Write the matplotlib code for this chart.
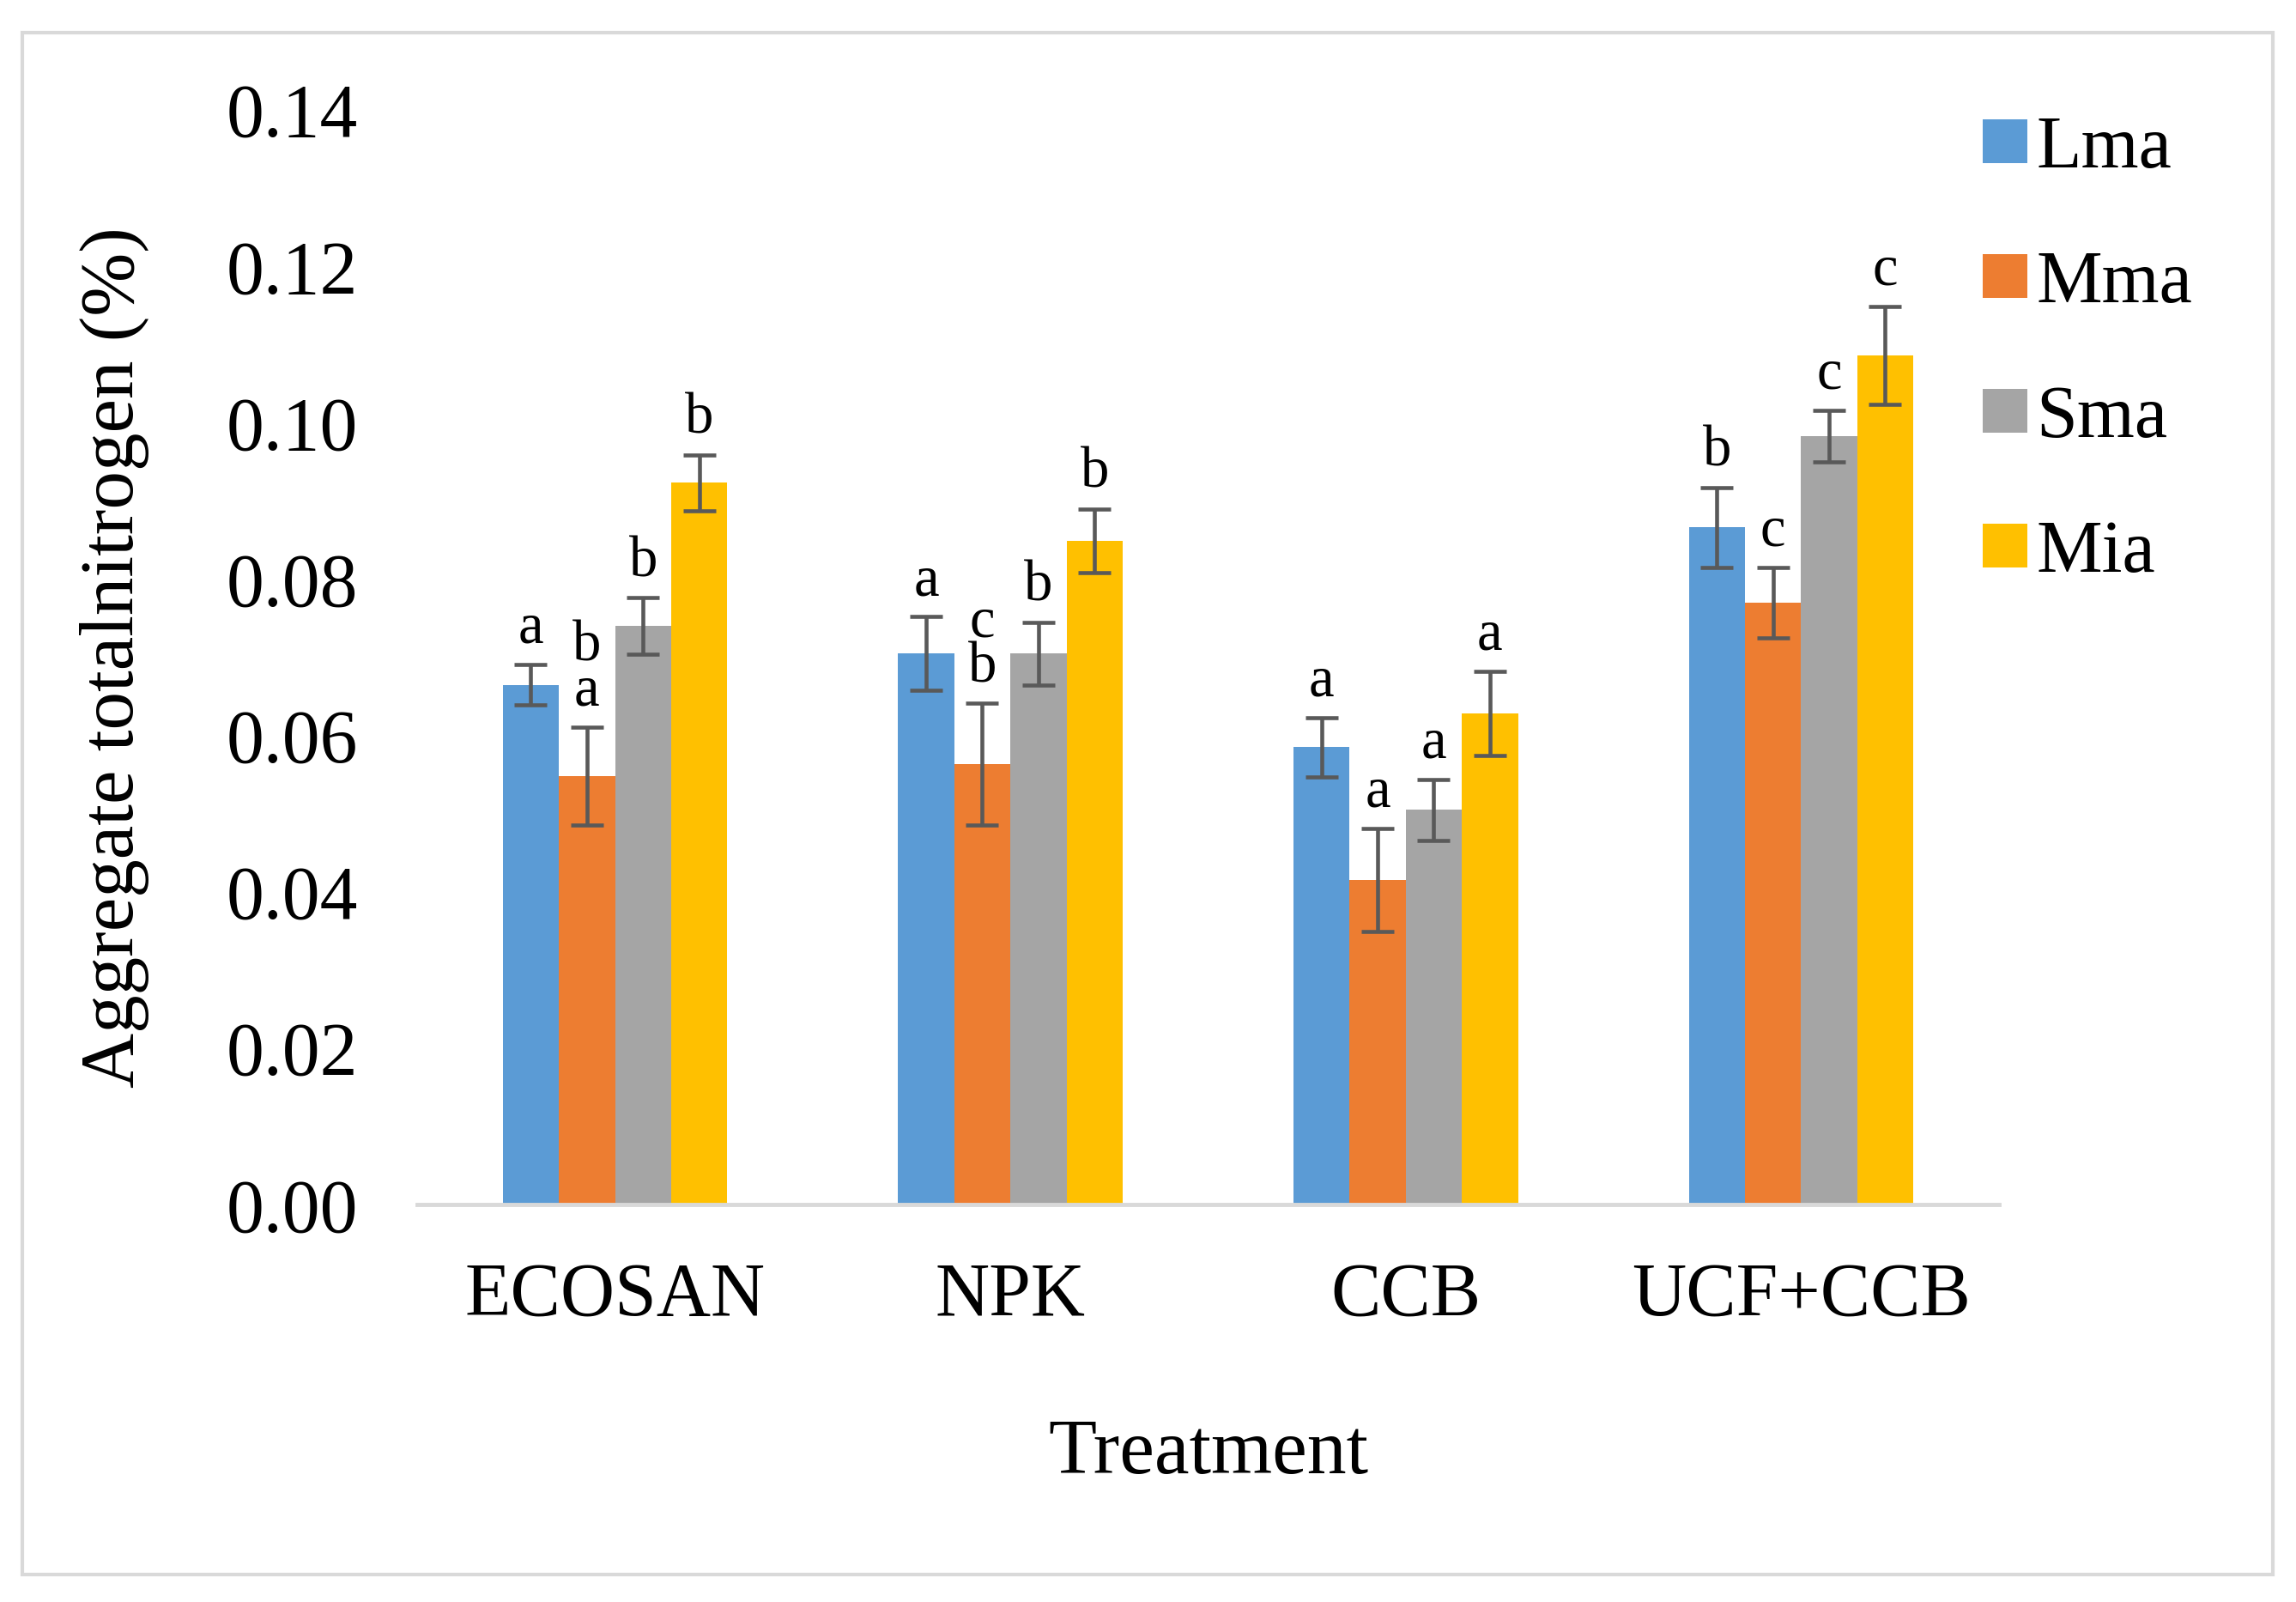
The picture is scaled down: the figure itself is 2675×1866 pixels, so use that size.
import matplotlib
matplotlib.use("Agg")
import matplotlib.pyplot as plt
import numpy as np
from matplotlib.patches import Rectangle

categories = ["ECOSAN", "NPK", "CCB", "UCF+CCB"]
series = ["Lma", "Mma", "Sma", "Mia"]
values = {
    "Lma": [0.0665, 0.0705, 0.0585, 0.0866],
    "Mma": [0.0548, 0.0563, 0.0415, 0.0770],
    "Sma": [0.0740, 0.0705, 0.0505, 0.0983],
    "Mia": [0.0923, 0.0849, 0.0628, 0.1086],
}
errors = {
    "Lma": [0.0026, 0.0047, 0.0038, 0.0051],
    "Mma": [0.0063, 0.0078, 0.0066, 0.0045],
    "Sma": [0.0036, 0.0040, 0.0039, 0.0033],
    "Mia": [0.0036, 0.0041, 0.0054, 0.0063],
}
letters = {
    "Lma": ["a", "a", "a", "b"],
    "Mma": ["b\na", "c\nb", "a", "c"],
    "Sma": ["b", "b", "a", "c"],
    "Mia": ["b", "b", "a", "c"],
}
colors = {"Lma": "#5B9BD5", "Mma": "#ED7D31", "Sma": "#A5A5A5", "Mia": "#FFC000"}
yticks = [0.00, 0.02, 0.04, 0.06, 0.08, 0.10, 0.12, 0.14]

plt.rcParams["font.family"] = ["Liberation Serif", "DejaVu Serif"]

W, H = 2675, 1866
fig = plt.figure(figsize=(W / 100, H / 100), dpi=100)
ax = fig.add_axes([0.1818, 0.248, 0.8705 - 0.1818, 0.9314 - 0.248])

x = np.arange(len(categories))
bw = 0.142
n = len(series)
for i, s in enumerate(series):
    xs = x + (i - (n - 1) / 2) * bw
    ax.bar(xs, values[s], width=bw, color=colors[s], label=s, zorder=2)
    ax.errorbar(xs, values[s], yerr=errors[s], fmt="none", ecolor="#595959",
                elinewidth=3.3, capsize=13.5, capthick=3.3, zorder=3)
    for xi, v, e, t in zip(xs, values[s], errors[s], letters[s]):
        ax.annotate(t, (xi, v + e), xytext=(0, 8), textcoords="offset points",
                    ha="center", va="bottom", fontsize=48, linespacing=0.82,
                    color="black")

ax.set_xlim(-0.5, 3.5)
ax.set_ylim(0, 0.14)
ax.set_yticks(yticks)
ax.set_yticklabels([f"{t:.2f}" for t in yticks])
ax.set_xticks(x)
ax.set_xticklabels(categories)
ax.tick_params(axis="y", length=0, pad=50, labelsize=63)
ax.tick_params(axis="x", length=0, pad=48, labelsize=63)
for sp in ["top", "right", "left"]:
    ax.spines[sp].set_visible(False)
ax.spines["bottom"].set_color("#D9D9D9")
ax.spines["bottom"].set_linewidth(3.5)

ax.set_ylabel("Aggregate totalnitrogen (%)", fontsize=64, va="center")
ax.yaxis.set_label_coords(-0.1915, 0.5)
ax.set_xlabel("Treatment", fontsize=66, va="center")
ax.xaxis.set_label_coords(0.5, -0.2276)

leg = fig.legend(loc="upper left", bbox_to_anchor=(0.8475, 0.951), frameon=False,
                 fontsize=62, handlelength=0.6, handleheight=0.55,
                 handletextpad=0.12, labelspacing=0.9, borderpad=0)

fig.add_artist(Rectangle((26 / W, 1 - 1834 / H), (2648 - 26) / W, (1834 - 38) / H,
                         transform=fig.transFigure, fill=False,
                         edgecolor="#D9D9D9", linewidth=3))

fig.savefig("out.png", dpi=100)
